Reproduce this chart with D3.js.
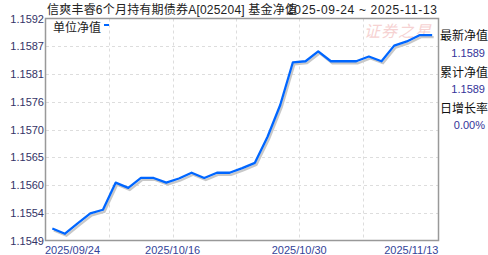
<!DOCTYPE html>
<html>
<head>
<meta charset="utf-8">
<script src="https://cdn.jsdelivr.net/npm/d3@7"></script>
<style>
  body { margin: 0; background: #fff; }
  svg { display: block; }
</style>
</head>
<body>
<div id="chart"></div>
<script>
// trading days shown on the chart
const dates = [
  "2025-09-24", "2025-09-25", "2025-09-26", "2025-09-29", "2025-09-30",
  "2025-10-09", "2025-10-10", "2025-10-13", "2025-10-14", "2025-10-15",
  "2025-10-16", "2025-10-17", "2025-10-20", "2025-10-21", "2025-10-22",
  "2025-10-23", "2025-10-24", "2025-10-27", "2025-10-28", "2025-10-29",
  "2025-10-30", "2025-10-31", "2025-11-03", "2025-11-04", "2025-11-05",
  "2025-11-06", "2025-11-07", "2025-11-10", "2025-11-11", "2025-11-12",
  "2025-11-13"
]
// 单位净值
const nav = [
  1.15515, 1.15505, 1.15525, 1.15544, 1.15551,
  1.15603, 1.15593, 1.15612, 1.15612, 1.15603,
  1.15611, 1.15622, 1.15612, 1.15622, 1.15622,
  1.15631, 1.15641, 1.15691, 1.15752, 1.15834,
  1.15836, 1.15855, 1.15836, 1.15836, 1.15836,
  1.15845, 1.15836, 1.15866, 1.15874, 1.15886,
  1.15886
]
const accNav = nav  // 累计净值 equals 单位净值 here
const yTickLabels = ["1.1549", "1.1554", "1.1560", "1.1565", "1.1570", "1.1576", "1.1581", "1.1587", "1.1592"]
const yDomain = [1.15492, 1.15918]
const xLabelDates = ["2025-09-24", "2025-10-16", "2025-10-30", "2025-11-13"]
const gridEvery = 5

const width = 488, height = 255
const plotLeft = 46, plotRight = 438.5, plotTop = 18.5, plotBottom = 240.5
const font = "'Liberation Sans', Arial, 'Noto Sans CJK SC', sans-serif"

const svg = d3.select("#chart").append("svg")
  .attr("width", width)
  .attr("height", height)
  .style("font-family", font)

const x = d3.scalePoint().domain(dates).range([plotLeft, plotRight]).padding(0.5)
const step = x.step()
const y = d3.scaleLinear().domain(yDomain).range([plotBottom, plotTop])

const data = dates.map((d, i) => ({date: d, value: nav[i]}))

// watermark
svg.append("text")
  .attr("x", 364).attr("y", 37)
  .attr("fill", "#f6d2d2")
  .attr("font-size", 16)
  .attr("font-style", "italic")
  .attr("letter-spacing", 1)
  .text("证券之星")

// horizontal grid
const yTicks = d3.range(yTickLabels.length).map(i => yDomain[0] + i * (yDomain[1] - yDomain[0]) / (yTickLabels.length - 1))
svg.append("g")
  .attr("stroke", "#ddd")
  .attr("stroke-dasharray", "3,3")
  .selectAll("line")
  .data(yTicks.slice(1, -1))
  .join("line")
    .attr("x1", plotLeft).attr("x2", plotRight)
    .attr("y1", d => Math.round(y(d)) + 0.5)
    .attr("y2", d => Math.round(y(d)) + 0.5)

// vertical grid at band boundaries
const gridDates = dates.filter((d, i) => i > 0 && i % gridEvery === 0 && i < dates.length - 1)
svg.append("g")
  .attr("stroke", "#ddd")
  .attr("stroke-dasharray", "3,3")
  .selectAll("line")
  .data(gridDates)
  .join("line")
    .attr("x1", d => Math.round(x(d) - step / 2) + 0.5)
    .attr("x2", d => Math.round(x(d) - step / 2) + 0.5)
    .attr("y1", plotTop).attr("y2", plotBottom)

// y labels
svg.append("g")
  .selectAll("text")
  .data(yTicks)
  .join("text")
    .attr("x", 44)
    .attr("y", d => y(d) + 4)
    .attr("text-anchor", "end")
    .attr("font-size", 11)
    .attr("fill", "#333366")
    .text((d, i) => yTickLabels[i])

// x labels
svg.append("g")
  .selectAll("text")
  .data(xLabelDates)
  .join("text")
    .attr("x", (d, i) => i === 0 ? plotLeft - 1 : i === xLabelDates.length - 1 ? plotRight : x(d) - step / 2)
    .attr("y", 253.5)
    .attr("text-anchor", (d, i) => i === 0 ? "start" : i === xLabelDates.length - 1 ? "end" : "middle")
    .attr("font-size", 11)
    .attr("fill", "#334499")
    .text(d => d.replace(/-/g, "/"))

// line with shadow
const line = d3.line()
  .x(d => x(d.date))
  .y(d => y(d.value))

svg.append("path")
  .datum(data)
  .attr("fill", "none")
  .attr("stroke", "#c8c8c8")
  .attr("stroke-width", 2.3)
  .attr("transform", "translate(1.5,2)")
  .attr("d", line)

svg.append("path")
  .datum(data)
  .attr("fill", "none")
  .attr("stroke", "#0066ff")
  .attr("stroke-width", 2.3)
  .attr("stroke-linejoin", "round")
  .attr("d", line)

// frame
svg.append("rect")
  .attr("x", plotLeft - 0.5).attr("y", plotTop)
  .attr("width", plotRight - plotLeft + 0.5).attr("height", plotBottom - plotTop)
  .attr("fill", "none")
  .attr("stroke", "#999")
  .attr("stroke-width", 1.5)

// legend
svg.append("text")
  .attr("x", 53).attr("y", 31.5)
  .attr("font-size", 12)
  .attr("fill", "#222")
  .text("单位净值")
svg.append("rect")
  .attr("x", 104).attr("y", 24)
  .attr("width", 5).attr("height", 2)
  .attr("fill", "#0066ff")

// title: date range first, the fund name is drawn over it
svg.append("text")
  .attr("x", 287).attr("y", 14)
  .attr("font-size", 12)
  .attr("fill", "#222")
  .attr("textLength", 150)
  .attr("lengthAdjust", "spacing")
  .text(`${dates[0]} ~ ${dates[dates.length - 1]}`)
svg.append("text")
  .attr("x", 47).attr("y", 14)
  .attr("font-size", 12)
  .attr("fill", "#222")
  .attr("textLength", 250)
  .attr("lengthAdjust", "spacing")
  .text("信爽丰睿6个月持有期债券A[025204] 基金净值")

// right info panel
const last = nav[nav.length - 1], prev = nav[nav.length - 2]
const info = [
  ["最新净值", d3.format(".4f")(last)],
  ["累计净值", d3.format(".4f")(accNav[accNav.length - 1])],
  ["日增长率", d3.format(".2f")((last / prev - 1) * 100) + "%"]
]
const panel = svg.append("g")
info.forEach(([label, value], i) => {
  panel.append("text")
    .attr("x", 440).attr("y", 40 + i * 36.5)
    .attr("font-size", 12)
    .attr("fill", "#111")
    .text(label)
  panel.append("text")
    .attr("x", 485).attr("y", 57 + i * 36)
    .attr("text-anchor", "end")
    .attr("font-size", 11)
    .attr("fill", "#333399")
    .text(value)
})
</script>
</body>
</html>
